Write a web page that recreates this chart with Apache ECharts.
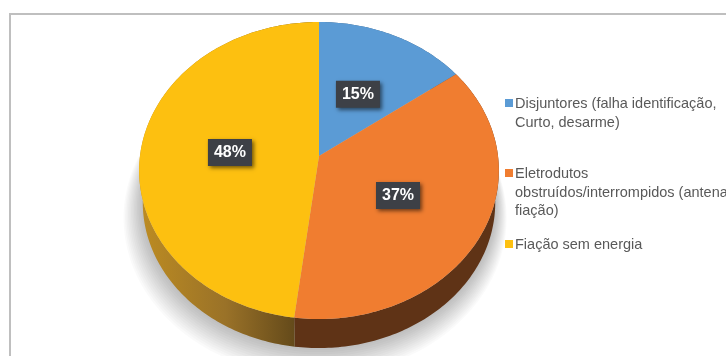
<!DOCTYPE html>
<html>
<head>
<meta charset="utf-8">
<style>html,body{margin:0;padding:0;background:#fff}#chart{width:726px;height:356px}</style>
<script src="https://cdn.jsdelivr.net/npm/echarts@6/dist/echarts.min.js"></script>
</head>
<body>
<div id="chart"></div>
<script>
const categories = ['Disjuntores (falha identificação, Curto, desarme)', 'Eletrodutos obstruídos/interrompidos (antena, fiação)', 'Fiação sem energia'];
const wrappedLabels = ['Disjuntores (falha identificação,\nCurto, desarme)', 'Eletrodutos\nobstruídos/interrompidos (antena,\nfiação)', 'Fiação sem energia'];
const values = [15, 37, 48];
const topColors = ['#5b9bd5', '#f07d30', '#fdc010'];
const legendTops = [95, 165, 236];
const lineCounts = [2, 3, 1];

// Tilted disc: a unit circle seen in perspective, so the centre sits above the middle of the ellipse.
const apex = { x: 319, y: 156 }, radiusX = 179, radiusY = 147.1, tilt = 0.0977;
// The lower edge of the side wall is slightly narrower than the top face.
const wallRadius = 0.98, wallDrop = 32.6;
const shadowLayers = 14;
const total = values.reduce((a, b) => a + b, 0);

function project(deg, r, drop) {
  const t = deg * Math.PI / 180, u = r * Math.sin(t), v = r * Math.cos(t), w = 1 + tilt * v;
  return [apex.x + radiusX * u / w, apex.y - radiusY * v / w + (drop || 0)];
}
function rim(from, to, r, drop) {
  const pts = [], n = Math.max(2, Math.ceil(Math.abs(to - from)));
  for (let i = 0; i <= n; i++) pts.push(project(from + (to - from) * i / n, r, drop));
  return pts;
}
function startAngle(i) {
  return values.slice(0, i).reduce((a, b) => a + b, 0) / total * 360;
}
const wallFills = [
  '#3c5f80',
  '#5f3316',
  new echarts.graphic.LinearGradient(139, 0, 296, 0, [
    { offset: 0, color: '#bd8c22' }, { offset: 0.55, color: '#9a7228' }, { offset: 1, color: '#63491a' }
  ], true)
];

function renderSlice(params, api) {
  const i = params.seriesIndex, value = api.value(0);
  const from = startAngle(i), to = from + value / total * 360;
  const children = [];
  if (i === 0) {
    // Cast shadow: nested translucent layers that spread down and outwards to give a soft falloff
    for (let k = 0; k < shadowLayers; k++) {
      children.push({
        type: 'polygon', z2: 1, x: -k * 0.3,
        shape: { points: rim(0, 360, wallRadius + k * 0.0065, wallDrop + k) },
        style: { fill: 'rgba(0,0,0,0.018)' }
      });
    }
  }
  children.push({
    type: 'polygon', z2: 2,
    shape: { points: rim(from, to, 1, 0).concat(rim(to, from, wallRadius, wallDrop)) },
    style: { fill: wallFills[i] }
  });
  children.push({
    type: 'polygon', z2: 3,
    shape: { points: [[apex.x, apex.y]].concat(rim(from, to, 1, 0)) },
    style: { fill: topColors[i] }
  });
  const mid = project((from + to) / 2, 0.5, 0);
  children.push({
    type: 'text', z2: 4, x: mid[0], y: mid[1] + 1,
    style: {
      text: value + '%', fill: '#fff', font: 'bold 16px "Liberation Sans", Arial, sans-serif',
      align: 'center', verticalAlign: 'middle', backgroundColor: '#3d4046', padding: [6, 6, 5, 6],
      shadowColor: 'rgba(0,0,0,0.55)', shadowBlur: 4, shadowOffsetX: 2, shadowOffsetY: 2
    }
  });
  return { type: 'group', children };
}

// Legend marker: a square level with the first text line, with a hairline speck at each end of the item box
function markerPath(boxHeight) {
  return 'path://M0 0H0.01V0.01H0Z M0 4H8V12H0Z M0 ' + (boxHeight - 0.01) + 'H0.01V' + boxHeight + 'H0Z';
}

const chart = echarts.init(document.getElementById('chart'), null, { renderer: 'canvas' });
chart.setOption({
  animation: false,
  backgroundColor: '#fff',
  graphic: [{
    type: 'polyline', silent: true,
    shape: { points: [[10, 360], [10, 14], [730, 14]] },
    style: { fill: null, stroke: '#bfbfbf', lineWidth: 2 }
  }],
  legend: categories.map((name, i) => ({
    data: [name], left: 505, top: legendTops[i], orient: 'vertical', padding: 0,
    selectedMode: false, itemWidth: 8, itemHeight: lineCounts[i] * 18.5,
    icon: markerPath(lineCounts[i] * 18.5),
    formatter: () => wrappedLabels[i],
    textStyle: { color: '#595959', fontSize: 14.5, lineHeight: 18.5, fontFamily: '"Liberation Sans", Arial, sans-serif', padding: [0, 0, 0, -3] }
  })),
  series: categories.map((name, i) => ({
    type: 'custom', name, coordinateSystem: 'none', silent: true,
    itemStyle: { color: topColors[i] },
    data: [[values[i]]],
    renderItem: renderSlice
  }))
});
</script>
</body>
</html>
